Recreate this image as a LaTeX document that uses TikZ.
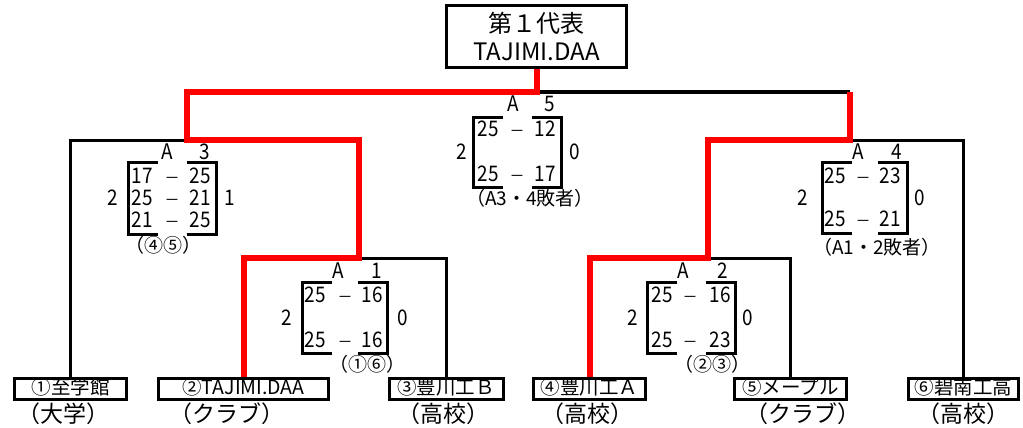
\documentclass[tikz,border=0pt]{standalone}
\usepackage{fontspec}
\setmainfont{Noto Sans CJK JP}
\newfontfamily\narrowfont[FakeStretch=0.88]{Noto Sans CJK JP}
\newcommand\scorebrk[4]{%
  \draw[brk] (#1+30,#3) -- (#1,#3) -- (#1,#4) -- (#1+30,#4);
  \draw[brk] (#2-29,#3) -- (#2,#3) -- (#2,#4) -- (#2-29,#4);}
\begin{document}
\begin{tikzpicture}[x=1pt,y=-1pt,
  blk/.style={line width=3pt,draw=black},
  win/.style={line width=6pt,draw=red},
  brk/.style={line width=3pt,draw=black},
  team/.style={draw,line width=3pt,inner sep=0pt,minimum height=21pt,
    text height=14pt,text depth=4pt,font=\fontsize{19.5}{20}\selectfont},
  cat/.style={inner sep=0pt,font=\fontsize{23}{23}\selectfont},
  sc/.style={inner sep=0pt,text height=15.5pt,text depth=0pt,font=\narrowfont\fontsize{21.5}{22}\selectfont},
  dsh/.style={inner sep=0pt,text height=15.5pt,text depth=0pt,font=\fontsize{15}{20}\selectfont},
  note/.style={inner sep=0pt,font=\fontsize{19}{19}\selectfont}]
\useasboundingbox (0,0) rectangle (1023,428);

% top box
\node[draw,line width=3pt,minimum width=180pt,minimum height=62pt,inner sep=0pt,
  align=center,font=\fontsize{24}{28}\selectfont] (top) at (536.5,36.5) {第１代表\\TAJIMI.DAA};

% teams
\node[team,minimum width=112pt] (t1) at (70.5,389) {①至学館};
\node[team,minimum width=170pt] (t2) at (243.5,389) {②TAJIMI.DAA};
\node[team,minimum width=114pt] (t3) at (446,389) {③豊川工Ｂ};
\node[team,minimum width=112pt] (t4) at (589.5,389) {④豊川工Ａ};
\node[team,minimum width=112pt] (t5) at (790.5,389) {⑤メープル};
\node[team,minimum width=110pt] (t6) at (963.5,389) {⑥碧南工高};

\node[cat] (k1) at (63,414) {（大学）};
\node[cat] (k2) at (227,414) {（クラブ）};
\node[cat] (k3) at (443,414) {（高校）};
\node[cat] (k4) at (587,414) {（高校）};
\node[cat] (k5) at (803,414) {（クラブ）};
\node[cat] (k6) at (963,414) {（高校）};

% junctions
\coordinate (aL) at (187,92);
\coordinate (aR) at (850,92);
\coordinate (b1) at (359,140);
\coordinate (b2) at (708,140);
\coordinate (c1) at (243.5,258);
\coordinate (c2) at (589.5,258);

% black lines
\draw[blk] (top.south |- aR) -- (aR);
\draw[blk] (t1.north) |- (aL |- b1);
\draw[blk] (b1 |- c1) -| (t3.north);
\draw[blk] (aR |- b2) -| (t6.north);
\draw[blk] (b2 |- c2) -| (t5.north);

% red winner path
\draw[win] (top.south) |- (aL) |- (b1) |- (c1) -- (t2.north);
\draw[win] (aR) |- (b2) |- (c2) -- (t4.north);

% score brackets
\scorebrk{128}{216}{162}{234}
\scorebrk{473}{561}{117}{187}
\scorebrk{302}{387}{282}{353}
\scorebrk{647}{735}{282}{353}
\scorebrk{822}{907}{162}{233}

% A3
\node[sc] (a3A) at (167,152) {A};
\node[sc] (a3n) at (205,152) {3};
\node[sc] (a3l1) at (142,176) {17}; \node[dsh] (a3d1) at (172,176) {－}; \node[sc] (a3r1) at (200,176) {25};
\node[sc] (a3l2) at (142,198) {25}; \node[dsh] (a3d2) at (172,198) {－}; \node[sc] (a3r2) at (200,198) {21};
\node[sc] (a3l3) at (142,220) {21}; \node[dsh] (a3d3) at (172,220) {－}; \node[sc] (a3r3) at (200,220) {25};
\node[sc] (a3w) at (113,198) {2};
\node[sc] (a3s) at (230,198) {1};
\node[note] (a3c) at (163,245) {（④⑤）};

% A5
\node[sc] (a5A) at (513,104) {A};
\node[sc] (a5n) at (550,104) {5};
\node[sc] (a5l1) at (488,129) {25}; \node[dsh] (a5d1) at (517,129) {－}; \node[sc] (a5r1) at (545,129) {12};
\node[sc] (a5l2) at (488,174) {25}; \node[dsh] (a5d2) at (517,174) {－}; \node[sc] (a5r2) at (545,174) {17};
\node[sc] (a5w) at (462,152) {2};
\node[sc] (a5s) at (575,152) {0};
\node[note] (a5c) at (530,198) {（A3・4敗者）};

% A1
\node[sc] (a1A) at (338,271) {A};
\node[sc] (a1n) at (377,271) {1};
\node[sc] (a1l1) at (315,295) {25}; \node[dsh] (a1d1) at (345,295) {－}; \node[sc] (a1r1) at (372,295) {16};
\node[sc] (a1l2) at (315,340) {25}; \node[dsh] (a1d2) at (345,340) {－}; \node[sc] (a1r2) at (372,340) {16};
\node[sc] (a1w) at (287,318) {2};
\node[sc] (a1s) at (403,318) {0};
\node[note] (a1c) at (367,364) {（①⑥）};

% A2
\node[sc] (a2A) at (683,271) {A};
\node[sc] (a2n) at (723,271) {2};
\node[sc] (a2l1) at (662,295) {25}; \node[dsh] (a2d1) at (690,295) {－}; \node[sc] (a2r1) at (720,295) {16};
\node[sc] (a2l2) at (662,340) {25}; \node[dsh] (a2d2) at (690,340) {－}; \node[sc] (a2r2) at (720,340) {23};
\node[sc] (a2w) at (633,318) {2};
\node[sc] (a2s) at (748,318) {0};
\node[note] (a2c) at (712,364) {（②③）};

% A4
\node[sc] (a4A) at (858,152) {A};
\node[sc] (a4n) at (897,152) {4};
\node[sc] (a4l1) at (835,176) {25}; \node[dsh] (a4d1) at (863,176) {－}; \node[sc] (a4r1) at (890,176) {23};
\node[sc] (a4l2) at (835,219) {25}; \node[dsh] (a4d2) at (863,219) {－}; \node[sc] (a4r2) at (890,219) {21};
\node[sc] (a4w) at (803,198) {2};
\node[sc] (a4s) at (920,198) {0};
\node[note] (a4c) at (877,247) {（A1・2敗者）};
\end{tikzpicture}
\end{document}
